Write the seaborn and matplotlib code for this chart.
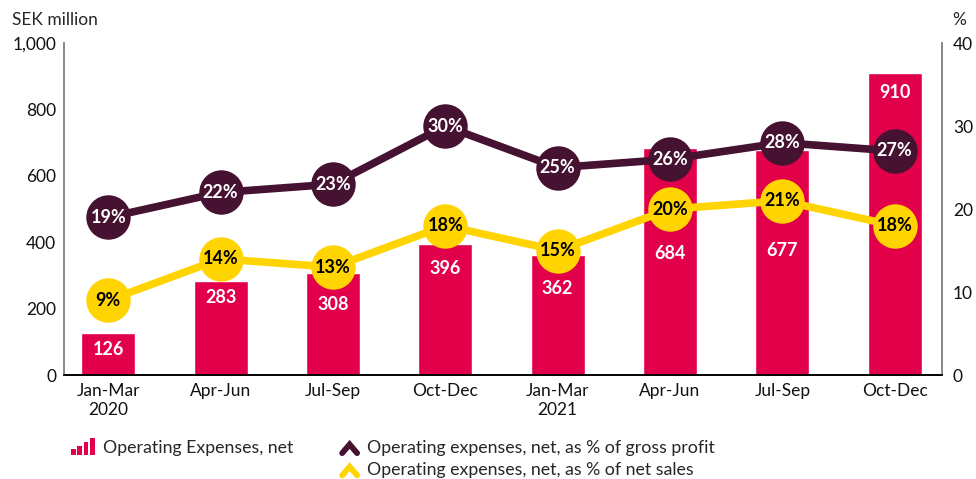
import matplotlib
matplotlib.use("Agg")
import matplotlib.pyplot as plt
import matplotlib.patches as mpatches
from matplotlib.legend_handler import HandlerBase
from matplotlib.lines import Line2D
import pandas as pd
import seaborn as sns

# -----------------------------------------
# Data
# -----------------------------------------
quarters = ["Jan-Mar\n2020", "Apr-Jun", "Jul-Sep", "Oct-Dec",
            "Jan-Mar\n2021", "Apr-Jun", "Jul-Sep", "Oct-Dec"]
opex = [126, 283, 308, 396, 362, 684, 677, 910]
pct_gross_profit = [19, 22, 23, 30, 25, 26, 28, 27]
pct_net_sales = [9, 14, 13, 18, 15, 20, 21, 18]

# how far (in points) each bar label sits below the bar top,
# so it stays clear of the line markers
label_drop = [12, 12, 23, 18, 24, 76, 72, 14]

RED = "#e3004a"
PURPLE = "#461232"
YELLOW = "#ffd400"

df = pd.DataFrame({
    "pos": range(len(quarters)),
    "opex": opex,
    "gp": pct_gross_profit,
    "ns": pct_net_sales,
})

sns.set_style("white")
plt.rcParams["font.family"] = ["Lato", "DejaVu Sans"]

fig = plt.figure(figsize=(9.76, 4.79), dpi=100)
ax = fig.add_axes([0.066, 0.217, 0.899, 0.693])

# -----------------------------------------
# Bars
# -----------------------------------------
sns.barplot(data=df, x="pos", y="opex", color=RED, saturation=1,
            width=0.48, ax=ax, zorder=2)
for i, v in enumerate(opex):
    ax.annotate(str(v), (i, v), xytext=(0, -label_drop[i]),
                textcoords="offset points", ha="center", va="center",
                color="white", fontsize=13, fontweight="bold")

ax.set_ylim(0, 1000)
ax.set_xlim(-0.39, 7.42)
ax.set_yticks(range(0, 1001, 200))
ax.set_yticklabels([f"{v:,}" for v in range(0, 1001, 200)], fontsize=12.5)
ax.set_xticks(range(len(quarters)))
ax.set_xticklabels(quarters, fontsize=12.5, linespacing=1.2)
ax.set_xlabel("")
ax.set_ylabel("")
ax.tick_params(axis="both", length=0, pad=6, colors="#111111")

# -----------------------------------------
# Lines (secondary axis)
# -----------------------------------------
ax2 = ax.twinx()
sns.lineplot(data=df, x="pos", y="gp", color=PURPLE, linewidth=5.5,
             marker="o", markersize=32, markeredgewidth=0, ax=ax2, zorder=3)
sns.lineplot(data=df, x="pos", y="ns", color=YELLOW, linewidth=5.5,
             marker="o", markersize=32, markeredgewidth=0, ax=ax2, zorder=3)
for i, v in enumerate(pct_gross_profit):
    ax2.text(i, v, f"{v}%", ha="center", va="center", color="white",
             fontsize=13, fontweight="bold", zorder=5)
for i, v in enumerate(pct_net_sales):
    ax2.text(i, v, f"{v}%", ha="center", va="center", color="black",
             fontsize=13, fontweight="bold", zorder=5)

ax2.set_ylim(0, 40)
ax2.set_yticks(range(0, 41, 10))
ax2.set_yticklabels([str(v) for v in range(0, 41, 10)], fontsize=12.5)
ax2.set_ylabel("")
ax2.tick_params(axis="y", length=0, pad=8, colors="#111111")

for a in (ax, ax2):
    a.spines["top"].set_visible(False)
    a.spines["left"].set_color("#888888")
    a.spines["right"].set_color("#888888")
    a.spines["left"].set_linewidth(1.2)
    a.spines["right"].set_linewidth(1.2)
    a.spines["bottom"].set_color("black")
    a.spines["bottom"].set_linewidth(1.2)
    a.grid(False)

fig.text(0.012, 0.958, "SEK million", fontsize=12.5, ha="left", va="center")
fig.text(0.99, 0.958, "%", fontsize=12.5, ha="right", va="center")

# -----------------------------------------
# Legend with custom icons
# -----------------------------------------
class BarIcon(HandlerBase):
    def create_artists(self, legend, orig, xd, yd, w, h, fs, trans):
        arts = []
        bw = 3.4
        gap = 1.1
        start = xd + w - 4 * (bw + gap)
        for k, frac in enumerate([0.45, 0.7, 1.0, 1.35]):
            r = mpatches.Rectangle((start + k * (bw + gap), yd - 1),
                                   bw, h * frac, facecolor=RED,
                                   edgecolor="none", transform=trans)
            arts.append(r)
        return arts


class ChevronIcon(HandlerBase):
    def create_artists(self, legend, orig, xd, yd, w, h, fs, trans):
        x0 = xd + w - h * 1.45
        l = Line2D([x0, x0 + h * 0.6, x0 + h * 1.2],
                   [yd + h * 0.0, yd + h * 0.7, yd + h * 0.0],
                   color=orig.get_color(), linewidth=4.2, transform=trans,
                   solid_joinstyle="miter")
        return [l]


bar_h = mpatches.Patch(color=RED, label="Operating Expenses, net")
blank = mpatches.Patch(color="none", label="")
gp_h = Line2D([], [], color=PURPLE, label="Operating expenses, net, as % of gross profit")
ns_h = Line2D([], [], color=YELLOW, label="Operating expenses, net, as % of net sales")

fig.legend(handles=[bar_h, blank, gp_h, ns_h], ncol=2,
           loc="upper left", bbox_to_anchor=(0.062, 0.096),
           frameon=False, fontsize=12.8, handlelength=1.6, handletextpad=0.4,
           columnspacing=2.15, labelspacing=0.35, borderaxespad=0,
           handler_map={bar_h: BarIcon(), gp_h: ChevronIcon(),
                        ns_h: ChevronIcon()})

fig.savefig("out.png", dpi=100)
